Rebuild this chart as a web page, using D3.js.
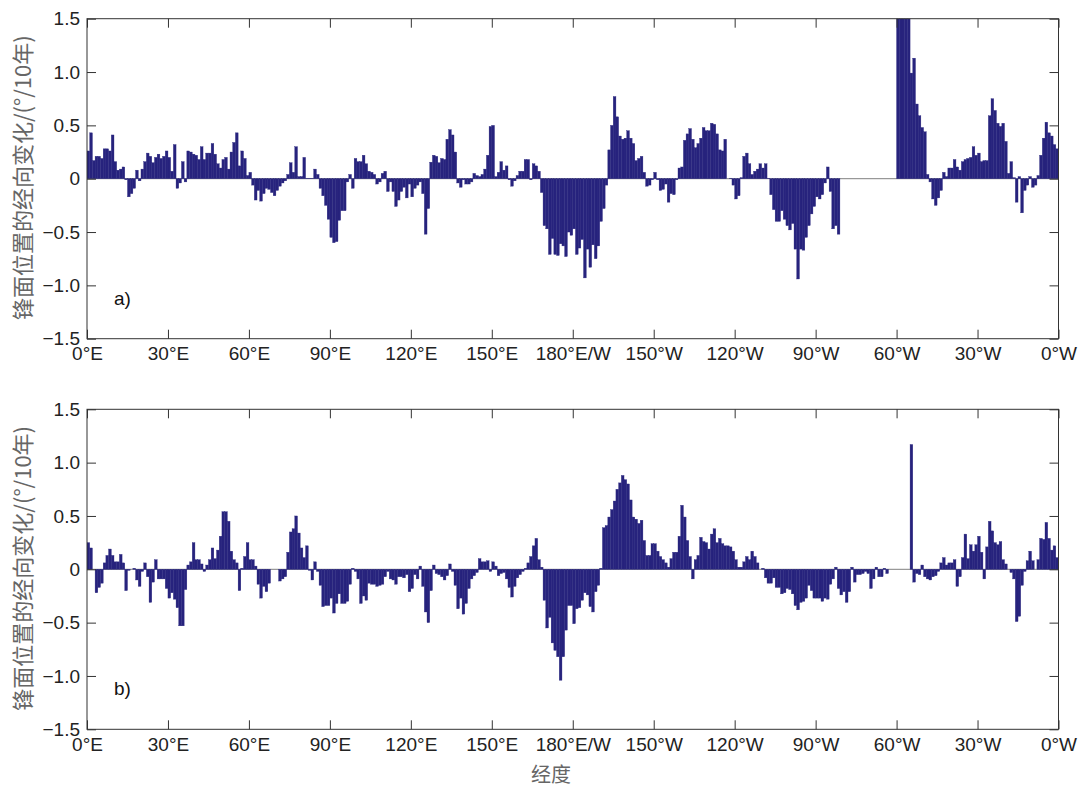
<!DOCTYPE html>
<html>
<head>
<meta charset="utf-8">
<script src="https://cdn.jsdelivr.net/npm/d3@7"></script>
<style>
  body { margin: 0; background: #fff; }
  svg text { font-family: "Liberation Sans", Arial, sans-serif; }
</style>
</head>
<body>
<script>
// trend of front position per degree of longitude, 0..359 (0°E eastward to 0°W)
var trendA = [
  0.26, 0.43, 0.17, 0.21, 0.21, 0.19, 0.28, 0.28, 0.26, 0.41,
  0.16, 0.08, 0.09, 0.11, -0.01, -0.17, -0.14, -0.09, 0.08, -0.02,
  0.09, 0.16, 0.24, 0.21, 0.15, 0.20, 0.23, 0.19, 0.21, 0.26,
  0.20, 0.07, 0.32, -0.09, -0.04, 0.16, -0.03, 0.26, 0.25, 0.23,
  0.22, 0.18, 0.30, 0.18, 0.24, 0.24, 0.33, 0.23, 0.14, 0.10,
  0.18, 0.20, 0.09, 0.25, 0.34, 0.43, 0.12, 0.26, 0.19, 0.03,
  0.06, -0.06, -0.20, -0.11, -0.21, -0.14, -0.09, -0.10, -0.13, -0.16,
  -0.11, -0.07, -0.04, -0.02, 0.04, 0.15, 0.06, 0.30, 0.02, 0.02,
  0.20, 0.005, 0.005, 0.005, 0.09, 0.04, -0.09, -0.16, -0.25, -0.38,
  -0.55, -0.60, -0.59, -0.39, -0.30, -0.30, -0.03, 0.04, -0.09, 0.19,
  0.16, 0.16, 0.22, 0.14, 0.07, 0.06, 0.04, -0.05, -0.03, 0.05,
  0.07, -0.12, -0.03, -0.12, -0.26, -0.20, -0.12, -0.08, -0.18, -0.05,
  -0.17, -0.09, -0.06, -0.03, -0.14, -0.52, -0.28, 0.155, 0.22, 0.21,
  0.15, 0.19, 0.18, 0.37, 0.46, 0.41, 0.25, -0.04, -0.08, -0.01,
  -0.05, -0.05, -0.03, 0.05, 0.03, 0.02, 0.04, 0.09, 0.22, 0.49,
  0.50, 0.02, 0.06, 0.16, 0.08, 0.12, -0.01, -0.07, -0.02, 0.03,
  0.07, 0.07, 0.18, 0.18, -0.01, 0.14, 0.12, 0.07, -0.13, -0.44,
  -0.47, -0.71, -0.56, -0.71, -0.72, -0.61, -0.63, -0.73, -0.50, -0.53,
  -0.47, -0.71, -0.65, -0.57, -0.93, -0.66, -0.83, -0.62, -0.75, -0.63,
  -0.40, -0.28, -0.06, 0.27, 0.50, 0.77, 0.58, 0.40, 0.37, 0.38,
  0.45, 0.38, 0.33, 0.17, 0.19, 0.21, 0.06, -0.07, -0.06, -0.01,
  0.06, -0.01, -0.11, -0.10, -0.05, -0.22, -0.14, -0.15, -0.01, 0.10,
  0.11, 0.36, 0.42, 0.47, 0.37, 0.29, 0.33, 0.38, 0.48, 0.45,
  0.45, 0.52, 0.51, 0.42, 0.27, 0.26, 0.37, 0.00, 0.005, -0.06,
  -0.19, -0.16, 0.01, 0.21, 0.24, 0.14, 0.04, 0.07, 0.09, 0.14,
  0.10, 0.14, 0.005, -0.15, -0.29, -0.40, -0.40, -0.30, -0.38, -0.44,
  -0.48, -0.42, -0.66, -0.94, -0.66, -0.67, -0.55, -0.44, -0.33, -0.26,
  -0.17, -0.19, -0.15, -0.04, 0.11, -0.12, -0.47, -0.44, -0.52, 0,
  0, 0, 0, 0, 0, 0, 0, 0, 0, 0,
  0, 0, 0, 0, 0, 0, 0, 0, 0, 0,
  1.8, 1.9, 2.0, 1.8, 1.7, 0.99, 1.13, 0.70, 0.59, 0.48,
  0.44, 0.04, -0.03, -0.19, -0.25, -0.18, -0.11, 0.06, 0.02, 0.10,
  0.10, 0.18, 0.11, 0.08, 0.16, 0.18, 0.19, 0.20, 0.30, 0.22,
  0.24, 0.16, 0.17, 0.17, 0.59, 0.75, 0.64, 0.52, 0.49, 0.52,
  0.35, 0.05, 0.16, 0.01, -0.22, 0.02, -0.32, -0.11, -0.06, 0.02,
  -0.08, -0.06, 0.03, 0.22, 0.38, 0.53, 0.43, 0.40, 0.32, 0.28
];

var trendB = [
  0.25, 0.20, 0, -0.22, -0.17, -0.13, 0.06, 0.13, 0.19, 0.13,
  0.07, 0.07, 0.14, 0.06, -0.20, -0.01, 0, 0.01, -0.10, -0.16,
  -0.02, 0.06, -0.07, -0.31, -0.12, 0.09, -0.09, -0.09, -0.09, -0.18,
  -0.27, -0.22, -0.28, -0.36, -0.53, -0.53, -0.19, 0.04, 0.07, 0.25,
  0.09, 0.09, 0.05, -0.02, 0.04, 0.09, 0.20, 0.10, 0.18, 0.31,
  0.54, 0.54, 0.45, 0.17, 0.09, 0.06, -0.20, 0.01, 0.12, 0.25,
  0.09, 0.09, 0.03, -0.14, -0.27, -0.16, -0.21, -0.13, 0, 0,
  0, -0.11, -0.09, -0.07, 0.16, 0.35, 0.38, 0.50, 0.34, 0.20,
  0.11, 0.22, -0.01, -0.10, 0.07, -0.02, -0.15, -0.35, -0.34, -0.34,
  -0.27, -0.41, -0.32, -0.23, -0.32, -0.32, -0.30, -0.14, 0.01, -0.02,
  -0.09, -0.32, -0.25, -0.29, -0.13, -0.14, -0.14, -0.16, -0.15, -0.14,
  -0.07, -0.02, -0.09, -0.10, -0.14, -0.07, -0.07, -0.08, -0.05, -0.21,
  -0.18, -0.05, -0.09, 0.03, -0.16, -0.40, -0.50, -0.20, 0.04, -0.04,
  -0.05, -0.07, -0.10, -0.06, 0.05, -0.02, -0.15, -0.37, -0.27, -0.42,
  -0.32, -0.18, -0.09, -0.06, -0.03, 0.10, 0.07, 0.07, 0.08, -0.02,
  0.07, 0.03, -0.06, -0.04, -0.03, -0.09, -0.17, -0.26, -0.16, -0.08,
  -0.05, -0.02, 0.01, 0.06, 0.12, 0.22, 0.29, 0.09, 0.02, -0.29,
  -0.55, -0.45, -0.69, -0.76, -0.82, -1.04, -0.82, -0.57, -0.34, -0.34,
  -0.51, -0.37, -0.36, -0.29, -0.22, -0.24, -0.35, -0.40, -0.21, -0.15,
  0.01, 0.39, 0.41, 0.49, 0.56, 0.64, 0.75, 0.81, 0.88, 0.84,
  0.80, 0.65, 0.49, 0.47, 0.43, 0.46, 0.27, 0.13, 0.13, 0.24,
  0.24, 0.17, 0.12, 0.09, 0.06, 0.02, 0.10, 0.16, 0.16, 0.31,
  0.60, 0.49, 0.27, 0.12, -0.09, 0.09, 0.13, 0.30, 0.26, 0.25,
  0.19, 0.33, 0.38, 0.25, 0.29, 0.24, 0.22, 0.22, 0.21, 0.17,
  0.09, 0.02, 0.02, 0.07, 0.12, 0.09, 0.17, 0.12, 0.06, 0,
  0.01, -0.08, -0.13, -0.13, -0.08, -0.17, -0.17, -0.23, -0.22, -0.18,
  -0.19, -0.23, -0.34, -0.38, -0.31, -0.30, -0.27, -0.15, -0.20, -0.27,
  -0.27, -0.27, -0.30, -0.27, -0.28, -0.14, -0.09, 0.02, -0.18, -0.24,
  -0.21, -0.31, -0.21, 0.02, -0.12, -0.05, -0.05, -0.04, -0.02, -0.04,
  -0.18, -0.09, 0.02, -0.07, -0.07, 0.01, -0.04, 0, 0, 0,
  0, 0, 0, 0, 0, 1.17, -0.12, -0.04, -0.05, 0.04,
  -0.07, -0.09, -0.10, -0.07, -0.06, -0.02, 0.06, 0.11, 0.04, 0.06,
  0.06, 0.09, -0.16, -0.07, 0.11, 0.33, 0.10, 0.23, 0.17, 0.23,
  0.31, 0.16, -0.09, 0.21, 0.45, 0.36, 0.25, 0.23, 0.26, 0.09,
  0.05, 0, -0.03, -0.09, -0.49, -0.44, -0.15, -0.02, 0.08, 0.17,
  0.08, 0, 0.09, 0.29, 0.28, 0.44, 0.29, 0.18, 0.22, 0.11
];

var lonTicks = [0, 30, 60, 90, 120, 150, 180, 210, 240, 270, 300, 330, 360];
var lonLabels = ["0°E", "30°E", "60°E", "90°E", "120°E", "150°E", "180°E/W",
                 "150°W", "120°W", "90°W", "60°W", "30°W", "0°W"];
var yTicks = [-1.5, -1.0, -0.5, 0, 0.5, 1.0, 1.5];
var panelNames = ["a)", "b)"];

var width = 1089, height = 790;
var left = 87, right = 1058.5, plotH = 320;
var panelTops = [18.7, 409.3];
var barColor = "#27237d";

var svg = d3.select("body").append("svg")
    .attr("width", width)
    .attr("height", height);

var x = d3.scaleLinear().domain([0, 360]).range([left, right]);

function yFmt(d) {
  return d === 0 ? "0" : d3.format(".1f")(d);
}

[trendA, trendB].forEach(function (data, p) {
  var top = panelTops[p];
  var y = d3.scaleLinear().domain([-1.5, 1.5]).range([top + plotH, top]);
  var g = svg.append("g");

  g.append("clipPath").attr("id", "clip" + p)
    .append("rect")
      .attr("x", left).attr("y", top)
      .attr("width", right - left).attr("height", plotH);

  // baseline
  g.append("line")
      .attr("x1", left).attr("x2", right)
      .attr("y1", y(0)).attr("y2", y(0))
      .attr("stroke", "#808080")
      .attr("stroke-width", 1);

  // thin stroke in the same colour closes the seams between bars
  g.append("g")
      .attr("clip-path", "url(#clip" + p + ")")
      .attr("fill", barColor)
      .attr("stroke", barColor)
      .attr("stroke-width", 0.35)
    .selectAll("rect")
    .data(data)
    .enter().append("rect")
      .attr("x", (d, i) => x(i))
      .attr("width", (d, i) => x(i + 1) - x(i))
      .attr("y", d => y(Math.max(0, d)))
      .attr("height", d => Math.abs(y(d) - y(0)));

  // axes, ticks pointing inward (matlab style)
  g.append("g")
      .attr("transform", `translate(0,${top + plotH})`)
      .call(d3.axisBottom(x).tickValues(lonTicks)
        .tickFormat((d, i) => lonLabels[i])
        .tickSizeInner(-9).tickSizeOuter(0).tickPadding(8));
  g.append("g")
      .attr("transform", `translate(0,${top})`)
      .call(d3.axisTop(x).tickValues(lonTicks).tickFormat("")
        .tickSizeInner(-9).tickSizeOuter(0));
  g.append("g")
      .attr("transform", `translate(${left},0)`)
      .call(d3.axisLeft(y).tickValues(yTicks).tickFormat(yFmt)
        .tickSizeInner(-9).tickSizeOuter(0).tickPadding(7));
  g.append("g")
      .attr("transform", `translate(${right},0)`)
      .call(d3.axisRight(y).tickValues(yTicks).tickFormat("")
        .tickSizeInner(-9).tickSizeOuter(0));

  g.selectAll(".domain").remove();
  g.selectAll(".tick line").attr("stroke", "#333");
  g.selectAll(".tick text")
      .attr("font-size", 19)
      .attr("fill", "#222")
      .style("font-family", "'Liberation Sans', Arial, sans-serif");

  g.append("rect")
      .attr("x", left).attr("y", top)
      .attr("width", right - left).attr("height", plotH)
      .attr("fill", "none")
      .attr("stroke", "#333")
      .attr("stroke-width", 1);

  g.append("text")
      .attr("x", 114)
      .attr("y", top + 286)
      .attr("font-size", 19)
      .attr("fill", "#111")
      .text(panelNames[p]);

  g.append("text")
      .attr("transform", `translate(21,${top + plotH / 2 - 1}) rotate(-90)`)
      .attr("text-anchor", "middle")
      .attr("dominant-baseline", "central")
      .attr("font-size", 22)
      .attr("fill", "#666")
      .style("font-family", "'Noto Sans CJK SC', sans-serif")
      .text("锋面位置的经向变化/(°/10年)");
});

svg.append("text")
    .attr("x", 551)
    .attr("y", 782)
    .attr("text-anchor", "middle")
    .attr("font-size", 20)
    .attr("fill", "#666")
    .style("font-family", "'Noto Sans CJK SC', sans-serif")
    .text("经度");
</script>
</body>
</html>
